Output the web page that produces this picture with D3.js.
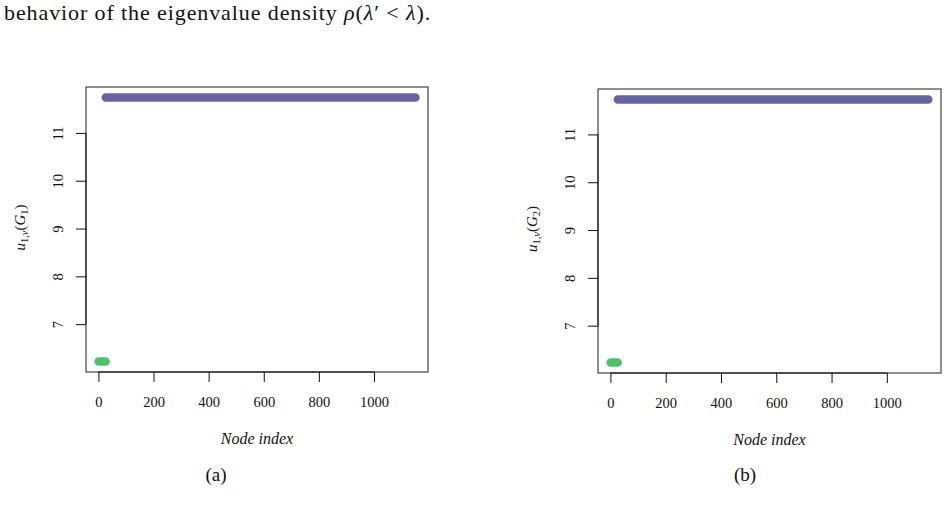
<!DOCTYPE html>
<html>
<head>
<meta charset="utf-8">
<script src="https://cdn.jsdelivr.net/npm/d3@7"></script>
<style>
  body { margin: 0; background: #fff; }
  svg { display: block; }
  text { font-family: "Liberation Serif", "DejaVu Serif", serif; fill: #111; }
</style>
</head>
<body>
<svg id="root"></svg>
<script>
const width = 948,
  height = 512;

// node index ranges and constant u_{1,v} value for each community
const panelNames = ["(a)", "(b)"];
const graphSub = ["1", "2"];
const groupStart = [1, 27];
const groupEnd = [26, 1150];
const valuesA = [6.22, 11.74];
const valuesB = [6.23, 11.73];
const groupColors = ["#4cc26a", "#6864a4"];
const xTicks = [0, 200, 400, 600, 800, 1000];
const yTicks = [7, 8, 9, 10, 11];

const svg = d3.select("svg#root").attr("width", width).attr("height", height);

// leftover line of the surrounding text
const headLine = svg.append("text")
  .attr("x", 4)
  .attr("y", 20)
  .attr("font-size", "22px")
  .attr("letter-spacing", "0.9px");
headLine.append("tspan").text("behavior of the eigenvalue density ");
headLine.append("tspan").attr("font-style", "italic").text("ρ");
headLine.append("tspan").text("(");
headLine.append("tspan").attr("font-style", "italic").text("λ");
headLine.append("tspan").text("′ < ");
headLine.append("tspan").attr("font-style", "italic").text("λ");
headLine.append("tspan").text(").");

const panels = [
  { x0: 86, x1: 428, y0: 87, y1: 372, values: valuesA },
  { x0: 598, x1: 941, y0: 89, y1: 373, values: valuesB },
];

panels.forEach((p, i) => {
  const g = svg.append("g");

  // R style 4% padding on both axes
  const xs = d3.scaleLinear().domain([1 - 0.04 * 1149, 1150 + 0.04 * 1149]).range([p.x0, p.x1]);
  const yLo = d3.min(p.values), yHi = d3.max(p.values);
  const pad = (yHi - yLo) * 0.04;
  const ys = d3.scaleLinear().domain([yLo - pad, yHi + pad]).range([p.y1, p.y0]);

  // points: overlapping dots form a band per community
  g.selectAll("line.band")
    .data(groupStart.map((s, k) => ({ s, e: groupEnd[k], v: p.values[k], c: groupColors[k] })))
    .join("line")
    .attr("class", "band")
    .attr("x1", (d) => xs(d.s))
    .attr("x2", (d) => xs(d.e))
    .attr("y1", (d) => ys(d.v))
    .attr("y2", (d) => ys(d.v))
    .attr("stroke", (d) => d.c)
    .attr("stroke-width", 8.6)
    .attr("stroke-linecap", "round");

  // box
  g.append("rect")
    .attr("x", p.x0)
    .attr("y", p.y0)
    .attr("width", p.x1 - p.x0)
    .attr("height", p.y1 - p.y0)
    .attr("fill", "none")
    .attr("stroke", "#444")
    .attr("stroke-width", 1.2);

  // x axis
  const xAxis = g.append("g").attr("transform", `translate(0,${p.y1})`)
    .call(d3.axisBottom(xs).tickValues(xTicks).tickSize(10).tickPadding(15).tickFormat(d3.format("d")));
  xAxis.select(".domain").attr("d", `M${xs(0)},0H${xs(1000)}`).attr("stroke", "#111");
  xAxis.selectAll(".tick line").attr("stroke", "#111");
  xAxis.selectAll("text").attr("font-size", "14.5px").attr("font-family", null).attr("fill", "#111");

  // y axis, labels parallel to axis
  const yAxis = g.append("g").attr("transform", `translate(${p.x0},0)`)
    .call(d3.axisLeft(ys).tickValues(yTicks).tickSize(10).tickFormat(d3.format("d")));
  yAxis.select(".domain").attr("d", `M0,${ys(7)}V${ys(11)}`).attr("stroke", "#111");
  yAxis.selectAll(".tick line").attr("stroke", "#111");
  yAxis.selectAll("text")
    .attr("font-size", "14.5px")
    .attr("font-family", null)
    .attr("fill", "#111")
    .attr("x", null)
    .attr("dy", null)
    .attr("text-anchor", "middle")
    .attr("transform", "translate(-23,0) rotate(-90)");

  // axis titles
  g.append("text")
    .attr("x", (p.x0 + p.x1) / 2)
    .attr("y", p.y1 + 72)
    .attr("text-anchor", "middle")
    .attr("font-size", "16px")
    .attr("font-style", "italic")
    .text("Node index");

  const yl = g.append("text")
    .attr("transform", `translate(${p.x0 - 61},${(p.y0 + p.y1) / 2 - 2}) rotate(-90)`)
    .attr("text-anchor", "middle")
    .attr("font-size", "15px");
  yl.append("tspan").attr("font-style", "italic").text("u");
  yl.append("tspan").attr("font-size", "10.5px").attr("dy", 3).text("1,");
  yl.append("tspan").attr("font-size", "10.5px").attr("font-style", "italic").text("v");
  yl.append("tspan").attr("dy", -3).text("(");
  yl.append("tspan").attr("font-style", "italic").text("G");
  yl.append("tspan").attr("font-size", "10.5px").attr("dy", 3).text(graphSub[i]);
  yl.append("tspan").attr("dy", -3).text(")");

  // sub-caption
  g.append("text")
    .attr("x", i === 0 ? 216 : 745)
    .attr("y", 481)
    .attr("text-anchor", "middle")
    .attr("font-size", "19px")
    .text(panelNames[i]);
});
</script>
</body>
</html>
